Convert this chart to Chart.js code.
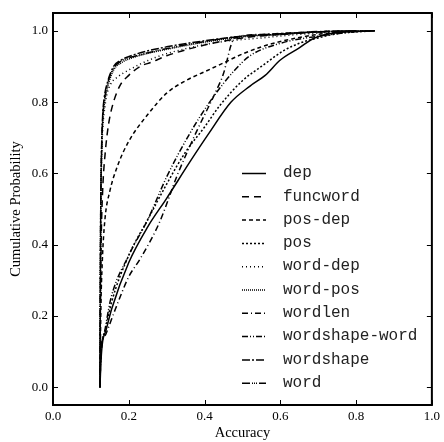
<!DOCTYPE html>
<html>
<head>
<meta charset="utf-8">
<script src="https://cdn.jsdelivr.net/npm/chart.js@4"></script>
<style>
  html, body { margin: 0; padding: 0; background: #fff; }
</style>
</head>
<body>
<canvas id="cdf" width="444" height="442"></canvas>
<script>
// tick labels
const xTicks = [0, 0.2, 0.4, 0.6, 0.8, 1.0];
const yTicks = [0, 0.2, 0.4, 0.6, 0.8, 1.0];

// series, in legend order
const seriesNames = ["dep", "funcword", "pos-dep", "pos", "word-dep", "word-pos",
  "wordlen", "wordshape-word", "wordshape", "word"];

// values (accuracy, cumulative probability)
const depX = [0.124, 0.126, 0.13, 0.14, 0.155, 0.2, 0.25, 0.3, 0.36, 0.41, 0.47, 0.52, 0.56, 0.6, 0.65, 0.69, 0.75, 0.85];
const depY = [0, 0.06, 0.12, 0.16, 0.22, 0.35, 0.45, 0.53, 0.63, 0.71, 0.8, 0.845, 0.875, 0.918, 0.952, 0.98, 0.995, 1.0];

const funcwordX = [0.124, 0.125, 0.127, 0.131, 0.138, 0.147, 0.157, 0.176, 0.2, 0.23, 0.26, 0.3, 0.4, 0.5, 0.6, 0.7, 0.8];
const funcwordY = [0, 0.2, 0.4, 0.55, 0.66, 0.74, 0.79, 0.845, 0.875, 0.9, 0.912, 0.93, 0.96, 0.98, 0.99, 0.997, 1.0];

const posDepX = [0.124, 0.126, 0.13, 0.137, 0.15, 0.17, 0.2, 0.25, 0.3, 0.35, 0.4, 0.45, 0.5, 0.55, 0.6, 0.7, 0.8];
const posDepY = [0, 0.2, 0.35, 0.47, 0.55, 0.62, 0.69, 0.765, 0.825, 0.86, 0.885, 0.91, 0.935, 0.955, 0.97, 0.99, 1.0];

const posX = [0.124, 0.125, 0.127, 0.138, 0.155, 0.2, 0.25, 0.3, 0.35, 0.4, 0.44, 0.5, 0.55, 0.61, 0.65, 0.7, 0.75, 0.85];
const posY = [0, 0.05, 0.1, 0.16, 0.24, 0.37, 0.47, 0.57, 0.66, 0.73, 0.79, 0.86, 0.9, 0.945, 0.965, 0.98, 0.992, 1.0];

const wordDepX = [0.124, 0.125, 0.126, 0.128, 0.131, 0.135, 0.142, 0.152, 0.17, 0.2, 0.27, 0.35, 0.45, 0.55, 0.65, 0.8];
const wordDepY = [0, 0.3, 0.5, 0.63, 0.72, 0.77, 0.82, 0.85, 0.87, 0.89, 0.925, 0.95, 0.97, 0.98, 0.99, 1.0];

const wordPosX = [0.124, 0.125, 0.126, 0.128, 0.131, 0.135, 0.145, 0.16, 0.18, 0.22, 0.3, 0.4, 0.5, 0.6, 0.7, 0.85];
const wordPosY = [0, 0.28, 0.48, 0.64, 0.74, 0.79, 0.845, 0.89, 0.91, 0.928, 0.948, 0.968, 0.983, 0.99, 0.997, 1.0];

const wordlenX = [0.124, 0.125, 0.127, 0.14, 0.165, 0.2, 0.23, 0.28, 0.33, 0.38, 0.43, 0.45, 0.46, 0.47, 0.48, 0.55, 0.7, 0.8];
const wordlenY = [0, 0.05, 0.1, 0.15, 0.22, 0.31, 0.36, 0.46, 0.6, 0.72, 0.83, 0.88, 0.92, 0.96, 0.98, 0.99, 0.998, 1.0];

const wordshapeWordX = [0.124, 0.125, 0.127, 0.137, 0.153, 0.2, 0.25, 0.3, 0.36, 0.42, 0.48, 0.52, 0.6, 0.7, 0.8];
const wordshapeWordY = [0, 0.05, 0.1, 0.16, 0.25, 0.37, 0.47, 0.59, 0.71, 0.81, 0.89, 0.93, 0.965, 0.985, 0.998];

const wordshapeX = [0.124, 0.125, 0.126, 0.128, 0.131, 0.135, 0.145, 0.16, 0.18, 0.22, 0.3, 0.4, 0.5, 0.6, 0.7, 0.85];
const wordshapeY = [0, 0.3, 0.5, 0.66, 0.76, 0.81, 0.86, 0.9, 0.918, 0.935, 0.955, 0.972, 0.985, 0.992, 0.997, 1.0];

const wordX = [0.124, 0.125, 0.126, 0.128, 0.131, 0.135, 0.145, 0.16, 0.18, 0.22, 0.3, 0.4, 0.5, 0.6, 0.7, 0.85];
const wordY = [0, 0.3, 0.5, 0.65, 0.75, 0.8, 0.855, 0.895, 0.915, 0.93, 0.95, 0.97, 0.985, 0.99, 0.997, 1.0];

const seriesX = [depX, funcwordX, posDepX, posX, wordDepX, wordPosX, wordlenX, wordshapeWordX, wordshapeX, wordX];
const seriesY = [depY, funcwordY, posDepY, posY, wordDepY, wordPosY, wordlenY, wordshapeWordY, wordshapeY, wordY];

// line dash per series (legend order)
const dashes = [
  [],
  [7, 5],
  [4, 3],
  [2, 2],
  [1, 3],
  [1, 1],
  [6, 3, 1, 3],
  [6, 2, 1, 2, 1, 2],
  [8, 2, 2, 2],
  [8, 2, 1, 1, 1, 1, 1, 2],
];

const datasets = seriesNames.map((name, i) => ({
  label: name,
  data: seriesX[i].map((x, j) => ({ x: x, y: seriesY[i][j] })),
  showLine: true,
  borderColor: "#000",
  borderWidth: 1.5,
  borderDash: dashes[i],
  pointRadius: 0,
  cubicInterpolationMode: "monotone",
}));

const serif = "'Liberation Serif', 'DejaVu Serif', serif";

// frame + inward ticks on every side
const frameTicks = {
  id: "frameTicks",
  afterDraw(chart) {
    const { ctx, chartArea: a, scales } = chart;
    ctx.save();
    ctx.strokeStyle = "#000";
    ctx.lineWidth = 1;
    ctx.beginPath();
    xTicks.forEach((v) => {
      const px = Math.round(scales.x.getPixelForValue(v)) + 0.5;
      ctx.moveTo(px, a.bottom); ctx.lineTo(px, a.bottom - 5);
      ctx.moveTo(px, a.top); ctx.lineTo(px, a.top + 5);
    });
    yTicks.forEach((v) => {
      const py = Math.round(scales.y.getPixelForValue(v)) + 0.5;
      ctx.moveTo(a.left, py); ctx.lineTo(a.left + 5, py);
      ctx.moveTo(a.right, py); ctx.lineTo(a.right - 5, py);
    });
    ctx.stroke();
    ctx.lineWidth = 2;
    ctx.strokeRect(a.left, a.top, a.right - a.left, a.bottom - a.top);
    ctx.restore();
  },
};

// legend inside the plot, lower right
const insideLegend = {
  id: "insideLegend",
  afterDatasetsDraw(chart) {
    const ctx = chart.ctx;
    ctx.save();
    ctx.font = "16px 'Liberation Mono', 'DejaVu Sans Mono', monospace";
    ctx.fillStyle = "#222";
    ctx.textBaseline = "middle";
    seriesNames.forEach((name, i) => {
      const y = 173 + i * 23.3;
      ctx.strokeStyle = "#000";
      ctx.lineWidth = 1.5;
      ctx.setLineDash(dashes[i]);
      ctx.beginPath();
      ctx.moveTo(242, y + 0.5);
      ctx.lineTo(266, y + 0.5);
      ctx.stroke();
      ctx.setLineDash([]);
      ctx.fillText(name, 283, y);
    });
    ctx.restore();
  },
};

new Chart(document.getElementById("cdf"), {
  type: "scatter",
  data: { datasets: datasets },
  options: {
    responsive: false,
    animation: false,
    layout: { padding: { top: 13, right: 9, left: 0, bottom: 0 } },
    plugins: { legend: { display: false }, tooltip: { enabled: false } },
    scales: {
      x: {
        type: "linear",
        min: 0,
        max: 1,
        afterBuildTicks: (s) => { s.ticks = xTicks.map((v) => ({ value: v })); },
        afterFit: (s) => { s.height = 37; },
        grid: { display: false, drawTicks: false },
        border: { display: false },
        ticks: { color: "#000", padding: 4, maxRotation: 0, font: { family: serif, size: 13 },
          callback: (v) => v.toFixed(1) },
        title: { display: true, text: "Accuracy", color: "#000", padding: 0,
          font: { family: serif, size: 14.5 } },
      },
      y: {
        type: "linear",
        min: -0.05,
        max: 1.05,
        afterBuildTicks: (s) => { s.ticks = yTicks.map((v) => ({ value: v })); },
        afterFit: (s) => { s.width = 53; },
        grid: { display: false, drawTicks: false },
        border: { display: false },
        ticks: { color: "#000", padding: 5, font: { family: serif, size: 13 },
          callback: (v) => v.toFixed(1) },
        title: { display: true, text: "Cumulative Probability", color: "#000",
          padding: { top: 7, bottom: 0 }, font: { family: serif, size: 14.5 } },
      },
    },
  },
  plugins: [frameTicks, insideLegend],
});
</script>
</body>
</html>
